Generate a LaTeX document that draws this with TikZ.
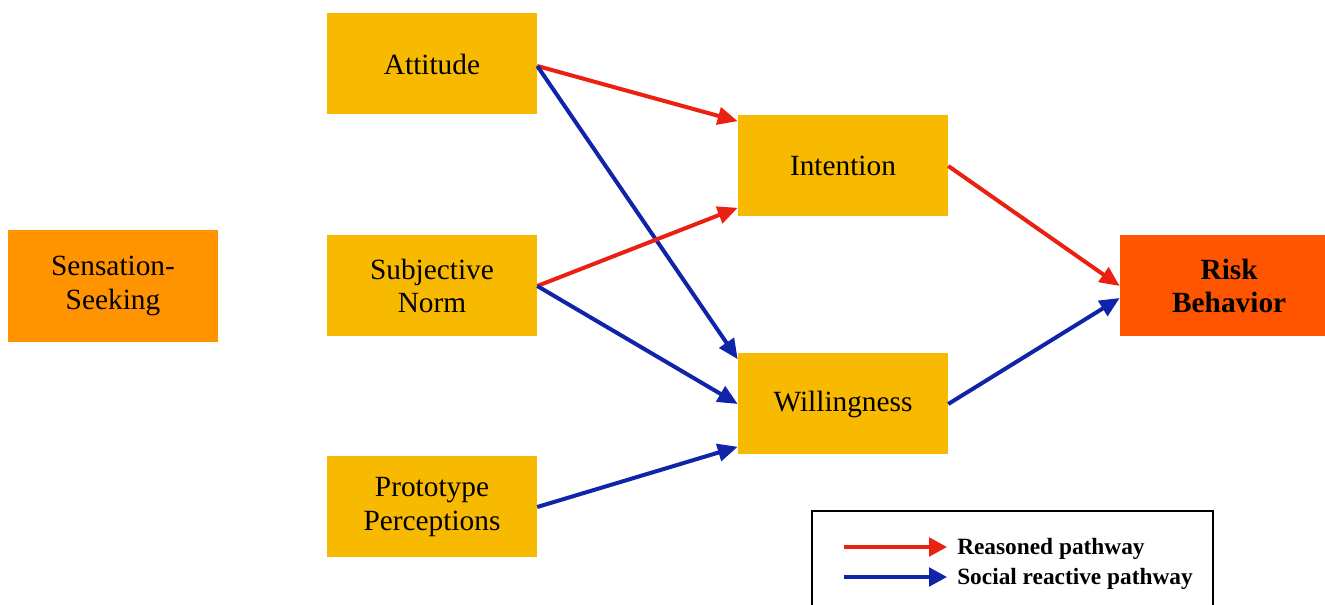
\documentclass[tikz,border=0pt]{standalone}
\usepackage{fontspec}
\setmainfont{Liberation Serif}
\usetikzlibrary{arrows.meta}
\definecolor{boxyellow}{HTML}{F8BA00}
\definecolor{boxorange}{HTML}{FF9300}
\definecolor{boxrisk}{HTML}{FF5500}
\definecolor{pathred}{HTML}{EA2010}
\definecolor{pathblue}{HTML}{1024AA}
\tikzset{
  fbox/.style={rectangle, fill=boxyellow, minimum width=157.5pt, minimum height=75.75pt,
    inner sep=0pt, align=center, font=\fontsize{22}{25}\selectfont},
  redarrow/.style={draw=pathred, line width=3pt, -{Triangle[length=15pt,width=13pt]}},
  bluearrow/.style={draw=pathblue, line width=3pt, -{Triangle[length=15pt,width=13pt]}},
  legred/.style={draw=pathred, line width=2.4pt, -{Triangle[length=13.5pt,width=14pt]}},
  legblue/.style={draw=pathblue, line width=2.4pt, -{Triangle[length=13.5pt,width=14pt]}},
  legtext/.style={anchor=west, inner sep=0pt, font=\fontsize{17.5}{20}\selectfont\bfseries}
}
\begin{document}
\begin{tikzpicture}[x=0.75pt,y=-0.75pt]
\useasboundingbox (0,0) rectangle (1325,605);
\node[fbox, fill=boxorange, minimum height=84pt] (sens) at (113,286) {Sensation-\\Seeking};
\node[fbox] (att) at (432,64) {Attitude};
\node[fbox] (sn) at (432,286) {Subjective\\Norm};
\node[fbox] (proto) at (432,507) {Prototype\\Perceptions};
\node[fbox] (int) at (843,166) {Intention};
\node[fbox] (will) at (843,404) {Willingness};
\node[fbox, fill=boxrisk, minimum width=153.75pt, font=\fontsize{22}{25}\selectfont\bfseries] (risk) at (1222.5,286) {\hspace*{10pt}Risk\\\hspace*{10pt}Behavior};
% arrows
\draw[redarrow] ([yshift=-1.5pt]att.east) -- ([yshift=-4.5pt]int.north west);
\draw[bluearrow] ([yshift=-1.5pt]att.east) -- ([yshift=-4.5pt]will.north west);
\draw[redarrow] (sn.east) -- ([yshift=6.75pt]int.south west);
\draw[bluearrow] (sn.east) -- (will.west);
\draw[bluearrow] (proto.east) -- ([yshift=6pt]will.south west);
\draw[redarrow] (int.east) -- (risk.west);
\draw[bluearrow] (will.east) -- ([yshift=-9pt]risk.west);
% legend
\coordinate (lgtl) at (812,511);
\coordinate (lgbr) at (1213,615);
\draw[line width=1.1pt] (lgtl) rectangle (lgbr);
\coordinate (r1) at (844,547);
\coordinate (r2) at (947,547);
\coordinate (b1) at (844,577);
\coordinate (b2) at (947,577);
\draw[legred] (r1) -- (r2);
\draw[legblue] (b1) -- (b2);
\node[legtext] (lr) at (957,549) {Reasoned pathway};
\node[legtext] (lb) at (957,579) {Social reactive pathway};
\end{tikzpicture}
\end{document}
